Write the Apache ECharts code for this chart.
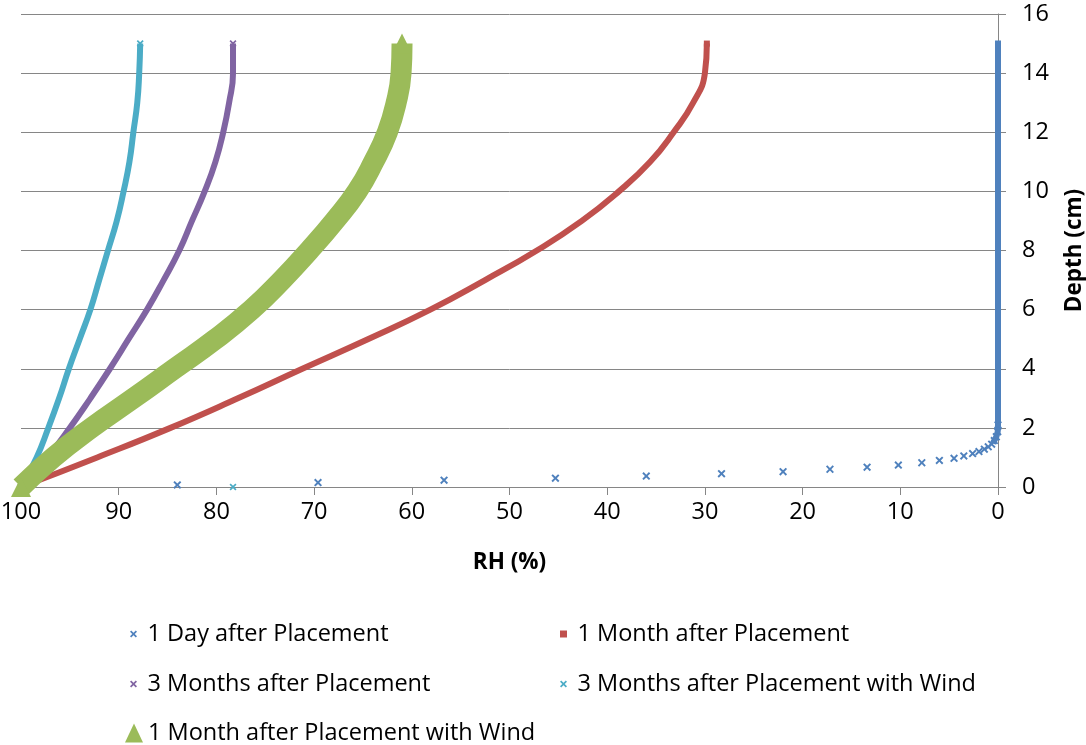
<!DOCTYPE html>
<html>
<head>
<meta charset="utf-8">
<script src="https://cdn.jsdelivr.net/npm/echarts@6/dist/echarts.min.js"></script>
<style>
  html, body { margin: 0; padding: 0; background: #ffffff; }
  #chart { width: 1086px; height: 745px; }
</style>
</head>
<body>
<div id="chart"></div>
<script>
// Relative humidity profiles (RH %) against depth below the surface (cm)
const depthCm = [0, 1, 2, 3, 4, 5, 6, 7, 8, 9, 10, 11, 12, 13, 14, 15];
const rhOneMonth        = [100, 92.2, 84.7, 77.8, 71.2, 64.5, 58.1, 52.5, 47.2, 42.6, 38.8, 35.6, 33.2, 31.2, 30.0, 29.8];
const rhThreeMonths     = [100, 97.3, 95.0, 92.9, 90.9, 89.0, 87.1, 85.4, 83.8, 82.5, 81.2, 80.1, 79.3, 78.7, 78.3, 78.3];
const rhThreeMonthsWind = [100, 98.4, 97.2, 96.1, 95.1, 94.0, 92.9, 92.0, 91.1, 90.2, 89.5, 88.9, 88.5, 88.1, 87.9, 87.8];
const rhOneMonthWind    = [100, 96.7, 92.8, 88.5, 84.3, 80.1, 76.4, 73.3, 70.5, 67.9, 65.6, 63.9, 62.5, 61.6, 61.1, 61.0];

// One day after placement: steep drying front near the surface
const oneDayRH    = [84.0, 69.6, 56.7, 45.3, 36.0, 28.3, 22.0, 17.2, 13.4, 10.2, 7.8, 6.0, 4.5, 3.5, 2.6, 1.95, 1.4, 1.0, 0.65, 0.38, 0.17, 0.03, 0, 0];
const oneDayDepth = [0.07, 0.15, 0.23, 0.30, 0.37, 0.45, 0.52, 0.60, 0.67, 0.74, 0.82, 0.90, 0.97, 1.05, 1.13, 1.20, 1.28, 1.36, 1.45, 1.57, 1.70, 1.87, 2.1, 15];

// Surface reading of the wind case
const windSurfaceRH    = [78.3];
const windSurfaceDepth = [0];

// Axis ranges and ticks
const rhAxis    = { min: 0, max: 100, step: 10 };
const depthAxis = { min: 0, max: 16, step: 2 };

const seriesNames = [
  '1 Day after Placement',
  '1 Month after Placement',
  '3 Months after Placement',
  '3 Months after Placement with Wind',
  '1 Month after Placement with Wind'
];

const COLORS = ['#4F81BD', '#C0504D', '#8064A2', '#4BACC6', '#9BBB59'];
const FONT = '"Open Sans", Lato, sans-serif';
const GRID_GREY = '#868686';
const X_MARK = 'path://M0,1.7 L1.7,0 L5,3.3 L8.3,0 L10,1.7 L6.7,5 L10,8.3 L8.3,10 L5,6.7 L1.7,10 L0,8.3 L3.3,5 Z';
const SQUARE = 'path://M0,0 L10,0 L10,10 L0,10 Z';

function pairs(xs, ys) {
  return xs.map(function (x, i) { return [x, ys[i]]; });
}

const oneDayPts = pairs(oneDayRH, oneDayDepth);

// A profile is a thick smoothed trace, with its markers showing at the two ends
function profile(idx, rh, marker, markerSize, width, extraPts) {
  const pts = pairs(rh, depthCm);
  const ends = [pts[0], pts[pts.length - 1]];
  return [
    {
      name: seriesNames[idx], type: 'scatter',
      data: (extraPts || []).concat(ends),
      symbol: marker, symbolSize: markerSize,
      itemStyle: { color: COLORS[idx], opacity: 1 },
      silent: true, z: 2 + idx
    },
    {
      name: seriesNames[idx], type: 'line',
      data: pts, smooth: 0.5,
      symbol: 'none', showSymbol: false,
      lineStyle: { color: COLORS[idx], width: width, cap: 'butt', join: 'round' },
      silent: true, z: 2 + idx
    }
  ];
}

const series = [].concat(
  [
    {
      name: seriesNames[0], type: 'scatter', data: oneDayPts.slice(0, -1),
      symbol: X_MARK, symbolSize: 8,
      itemStyle: { color: COLORS[0], opacity: 1 }, silent: true, z: 2
    },
    {
      name: seriesNames[0], type: 'line',
      data: oneDayPts.filter(function (p) { return p[1] >= 1.5; }),
      symbol: 'none', showSymbol: false,
      lineStyle: { color: COLORS[0], width: 6, cap: 'square' }, silent: true, z: 2
    }
  ],
  profile(1, rhOneMonth, SQUARE, 6, 6),
  profile(2, rhThreeMonths, X_MARK, 7, 6),
  profile(3, rhThreeMonthsWind, X_MARK, 7, 6, pairs(windSurfaceRH, windSurfaceDepth)),
  profile(4, rhOneMonthWind, 'triangle', [20, 20], 21)
);

// One legend block per entry, laid out in two columns
const legendSlots = [
  { left: 130, top: 622, icon: X_MARK, w: 18, h: 7 },
  { left: 560, top: 622, icon: SQUARE, w: 18, h: 7 },
  { left: 130, top: 672, icon: X_MARK, w: 18, h: 7 },
  { left: 560, top: 672, icon: X_MARK, w: 18, h: 7 },
  { left: 125, top: 721, icon: 'triangle', w: 18, h: 19 }
];
const legends = legendSlots.map(function (s, i) {
  return {
    left: s.left, top: s.top, orient: 'horizontal',
    itemWidth: s.w, itemHeight: s.h, itemGap: 0,
    selectedMode: false, padding: 0,
    data: [{ name: seriesNames[i], icon: s.icon }],
    textStyle: { fontFamily: FONT, fontSize: 23.5, color: '#000' }
  };
});

const chart = echarts.init(document.getElementById('chart'), null, { renderer: 'canvas' });
chart.setOption({
  animation: false,
  backgroundColor: '#ffffff',
  color: COLORS,
  grid: { left: 21, right: 88, top: 14, bottom: 258, containLabel: false, outerBoundsMode: 'none' },
  legend: legends,
  xAxis: {
    type: 'value', inverse: true,
    min: rhAxis.min, max: rhAxis.max, interval: rhAxis.step,
    name: 'RH (%)', nameLocation: 'middle', nameGap: 64,
    nameTextStyle: { fontFamily: FONT, fontSize: 22.5, fontWeight: 'bold', color: '#000' },
    axisLine: { show: true, onZero: false, lineStyle: { color: GRID_GREY, width: 1 } },
    axisTick: { show: true, length: 8, lineStyle: { color: GRID_GREY } },
    axisLabel: { margin: 13, fontFamily: FONT, fontSize: 23.5, color: '#000' },
    splitLine: { show: false }
  },
  yAxis: {
    type: 'value', position: 'right',
    min: depthAxis.min, max: depthAxis.max, interval: depthAxis.step,
    name: 'Depth (cm)', nameLocation: 'middle', nameRotate: 90, nameGap: 65,
    nameTextStyle: { fontFamily: FONT, fontSize: 22.5, fontWeight: 'bold', color: '#000' },
    axisLine: { show: true, onZero: false, lineStyle: { color: GRID_GREY, width: 1 } },
    axisTick: { show: true, length: 8, lineStyle: { color: GRID_GREY } },
    axisLabel: { margin: 24, fontFamily: FONT, fontSize: 23.5, color: '#000' },
    splitLine: { show: true, lineStyle: { color: GRID_GREY, width: 1 } }
  },
  series: series
});
</script>
</body>
</html>
